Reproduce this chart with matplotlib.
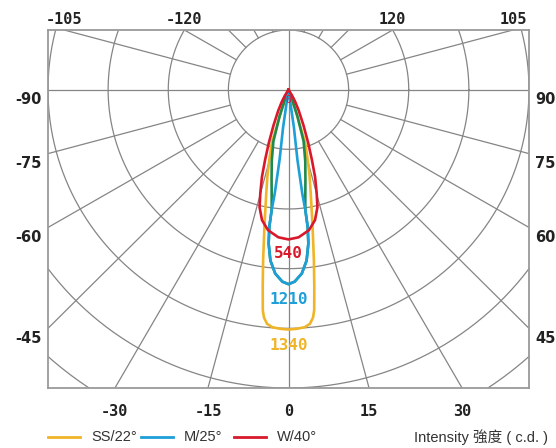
import numpy as np
import matplotlib.pyplot as plt
from matplotlib.lines import Line2D

# curve data: angle from nadir (deg) and radius (ring units), one half of each symmetric curve,
# listed from the nadir point up to the lamp position
ss_ang = [0, 2.0, 3.9, 5.2, 6.1, 6.6, 7.4, 8.4, 9.9, 12.0, 13.6, 15.2, 17.3, 17.6, 18.9, 18.4, 90]
ss_r = [4.02, 4.01, 3.99, 3.94, 3.84, 3.72, 3.33, 2.89, 2.33, 1.78, 1.49, 1.22, 0.94, 0.66, 0.37, 0.16, 0]

m_ang = [0, 1.8, 4.1, 6.0, 7.3, 7.9, 7.9, 7.5, 7.2, 8.1, 8.1, 90]
m_r = [3.26, 3.22, 3.09, 2.88, 2.60, 2.32, 2.04, 1.76, 1.19, 0.64, 0.35, 0]

n_ang = [0, 1.8, 4.1, 6.0, 7.3, 7.9, 7.9, 8.5, 10.6, 13.1, 16.2, 18.4, 19.3, 90]
n_r = [3.26, 3.22, 3.09, 2.88, 2.60, 2.32, 2.04, 1.89, 1.53, 1.23, 0.90, 0.47, 0.21, 0]

w_ang = [0, 3.9, 8.2, 11.4, 13.7, 15.1, 16.8, 18.3, 20.1, 22.6, 25.9, 28.8, 31, 90]
w_r = [2.51, 2.48, 2.38, 2.23, 2.03, 1.80, 1.53, 1.24, 0.96, 0.65, 0.39, 0.23, 0.12, 0]

peak_labels = ['1340', '1210', '540']
peak_pos = [-4.28, -3.51, -2.75]

legend_labels = ['SS/22°', 'M/25°', 'W/40°']
legend_x = [48, 141, 234]  # px where each legend line starts

rings = [1, 2, 3, 4, 5, 6]
spokes = list(range(0, 360, 15))
left_ticks = [-90, -75, -60, -45]
right_ticks = [90, 75, 60, 45]
top_ticks = [-105, -120, 120, 105]
bottom_ticks = [-30, -15, 0, 15, 30]

yellow = '#F0B429'
blue = '#1E9FD8'
red = '#D8182B'
green = '#1F8A4C'
grid_c = '#858585'

X0, X1, Y0, Y1 = -4, 4, -5, 1
W, H = 556, 448


def to_xy(ang, r):
    a = np.radians(ang)
    r = np.asarray(r)
    return r * np.sin(a), -r * np.cos(a)


def closed(ang, r):
    a = [-v for v in ang[::-1]] + list(ang[1:])
    rr = list(r[::-1]) + list(r[1:])
    return to_xy(a, rr)


def edge_hit(ang):
    a = np.radians(ang)
    dx, dy = np.sin(a), -np.cos(a)
    ts = []
    if dx > 1e-9:
        ts.append(X1 / dx)
    if dx < -1e-9:
        ts.append(X0 / dx)
    if dy > 1e-9:
        ts.append(Y1 / dy)
    if dy < -1e-9:
        ts.append(Y0 / dy)
    t = min(ts)
    return t * dx, t * dy


fig = plt.figure(figsize=(W / 100, H / 100), dpi=100)
ax = fig.add_axes([48 / W, 60 / H, 481 / W, 358 / H])
ax.set_xlim(X0, X1)
ax.set_ylim(Y0, Y1)
ax.set_xticks([])
ax.set_yticks([])
for s in ax.spines.values():
    s.set_color('#9a9a9a')
    s.set_linewidth(1.3)

# polar grid
t = np.linspace(0, 2 * np.pi, 400)
for r in rings:
    ax.plot(r * np.cos(t), r * np.sin(t), color=grid_c, lw=0.9, zorder=1)
for s in spokes:
    r0 = 0 if s % 90 == 0 else 1
    x, y = to_xy([s, s], [r0, 8])
    ax.plot(x, y, color=grid_c, lw=0.9, zorder=1)

# curves (green one has no legend entry in the original)
for ang, r, c in [(ss_ang, ss_r, yellow), (n_ang, n_r, green), (m_ang, m_r, blue), (w_ang, w_r, red)]:
    x, y = closed(ang, r)
    ax.plot(x, y, color=c, lw=1.9, zorder=3, solid_joinstyle='round')

for lab, yv, c in zip(peak_labels, peak_pos, [yellow, blue, red]):
    ax.text(0, yv, lab, color=c, fontsize=11.5, fontweight='bold', family='DejaVu Sans Mono',
            ha='center', va='center', zorder=4)
ax.text(0, -0.17, '0', color=red, fontsize=7, family='DejaVu Sans Mono', ha='center', va='center', zorder=4)

# angle labels around the frame
for a in left_ticks:
    ax.annotate(str(a), edge_hit(a), xytext=(-6, -10), textcoords='offset pixels', ha='right', va='center',
                fontsize=10.5, fontweight='bold', family='DejaVu Sans', color='#222', annotation_clip=False)
for a in right_ticks:
    ax.annotate(str(a), edge_hit(a), xytext=(6, -10), textcoords='offset pixels', ha='left', va='center',
                fontsize=10.5, fontweight='bold', family='DejaVu Sans', color='#222', annotation_clip=False)
for a in top_ticks:
    ax.annotate(str(a), edge_hit(a), xytext=(0, 10), textcoords='offset pixels', ha='center', va='center',
                fontsize=11, fontweight='bold', family='DejaVu Sans Mono', color='#222', annotation_clip=False)
for a in bottom_ticks:
    ax.annotate(str(a), edge_hit(a), xytext=(0, -23), textcoords='offset pixels', ha='center', va='center',
                fontsize=11, fontweight='bold', family='DejaVu Sans Mono', color='#222', annotation_clip=False)

# legend, placed by hand like the original
ly = 1 - 437 / H
for x0, lab, c in zip(legend_x, legend_labels, [yellow, blue, red]):
    fig.add_artist(Line2D([x0 / W, (x0 + 32) / W], [ly, ly], color=c, lw=2.0, transform=fig.transFigure))
    fig.text((x0 + 43) / W, ly, lab, ha='left', va='center', fontsize=10.5, family='Liberation Sans', color='#333')
fig.text(548 / W, ly, 'Intensity 強度 ( c.d. )', ha='right', va='center', fontsize=10.5,
         family=['Liberation Sans', 'Noto Sans CJK SC'], color='#333')

fig.savefig('out.png', dpi=100)
